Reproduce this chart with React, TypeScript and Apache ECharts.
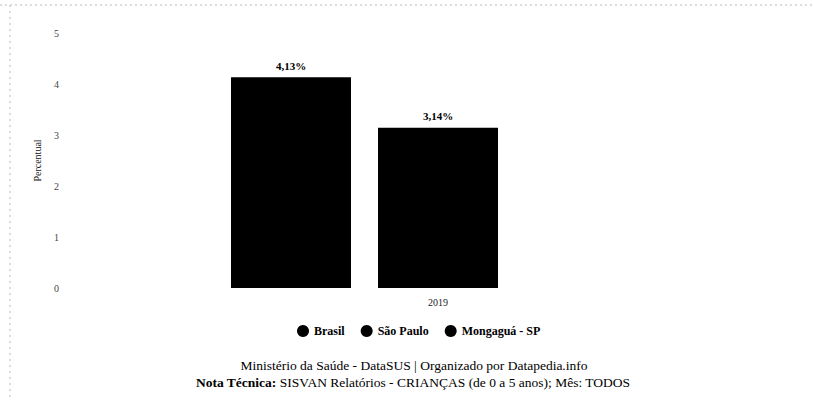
import React, { useEffect, useRef } from "react";
import * as echarts from "echarts";

const categories = ["2019"];
const seriesNames = ["Brasil", "São Paulo", "Mongaguá - SP"];
const brasilValues = [4.13];
const saoPauloValues = [3.14];
const mongaguaValues: (number | null)[] = [null];
const yAxisName = "Percentual";
const footerLine1 = "Ministério da Saúde - DataSUS | Organizado por Datapedia.info";
const footerLine2Bold = "Nota Técnica:";
const footerLine2 = " SISVAN Relatórios - CRIANÇAS (de 0 a 5 anos); Mês: TODOS";

const FONT = "Liberation Serif";

export default function App() {
  const ref = useRef<HTMLDivElement>(null);
  useEffect(() => {
    document.body.style.margin = "0";
    const chart = echarts.init(ref.current!, null, { renderer: "svg" });
    const label = {
      show: true,
      position: "top" as const,
      distance: 6,
      color: "#000",
      fontFamily: FONT,
      fontWeight: "bold" as const,
      fontSize: 11,
      formatter: (p: any) => p.value.toFixed(2).replace(".", ",") + "%",
    };
    const mk = (name: string, data: (number | null)[]) => ({
      name,
      type: "bar",
      data,
      barWidth: 120,
      barGap: "22.5%",
      itemStyle: { color: "#000" },
      label,
    });
    chart.setOption({
      animation: false,
      textStyle: { fontFamily: FONT },
      grid: { left: 70, right: 7, top: 33, bottom: 113 },
      legend: {
        data: seriesNames,
        top: 320,
        left: 292,
        icon: "circle",
        itemWidth: 12,
        itemHeight: 12,
        itemGap: 16,
        textStyle: { color: "#000", fontFamily: FONT, fontWeight: "bold", fontSize: 12 },
      },
      xAxis: {
        type: "category",
        data: categories,
        axisTick: { show: false },
        axisLine: { show: false },
        axisLabel: { color: "#222", fontFamily: FONT, fontSize: 10, margin: 9 },
      },
      yAxis: {
        type: "value",
        min: 0,
        max: 5,
        interval: 1,
        name: yAxisName,
        nameLocation: "middle",
        nameGap: 28,
        nameTextStyle: { color: "#111", fontFamily: FONT, fontSize: 10 },
        splitLine: { show: false },
        axisLine: { show: false },
        axisTick: { show: false },
        axisLabel: { color: "#444", fontFamily: FONT, fontSize: 10, margin: 11 },
      },
      graphic: [
        {
          type: "line",
          shape: { x1: 0, y1: 5, x2: 813, y2: 5 },
          style: { stroke: "#bbb", lineWidth: 1, lineDash: [2, 3] },
        },
        {
          type: "line",
          shape: { x1: 10, y1: 5, x2: 10, y2: 401 },
          style: { stroke: "#bbb", lineWidth: 1, lineDash: [2, 4] },
        },
        {
          type: "text",
          x: 414,
          y: 365,
          style: {
            text: footerLine1,
            fill: "#000",
            font: `13.5px "${FONT}"`,
            textAlign: "center",
            textVerticalAlign: "middle",
          },
        },
        {
          type: "text",
          x: 413,
          y: 382,
          style: {
            text: `{b|${footerLine2Bold}}{r|${footerLine2}}`,
            textAlign: "center",
            textVerticalAlign: "middle",
            rich: {
              b: { fontFamily: FONT, fontSize: 13.5, fontWeight: "bold", fill: "#000" },
              r: { fontFamily: FONT, fontSize: 13.5, fill: "#000" },
            },
          },
        },
      ],
      series: [
        mk(seriesNames[0], brasilValues),
        mk(seriesNames[1], saoPauloValues),
        mk(seriesNames[2], mongaguaValues),
      ],
    });
    return () => chart.dispose();
  }, []);
  return <div ref={ref} style={{ width: 813, height: 401 }} />;
}
